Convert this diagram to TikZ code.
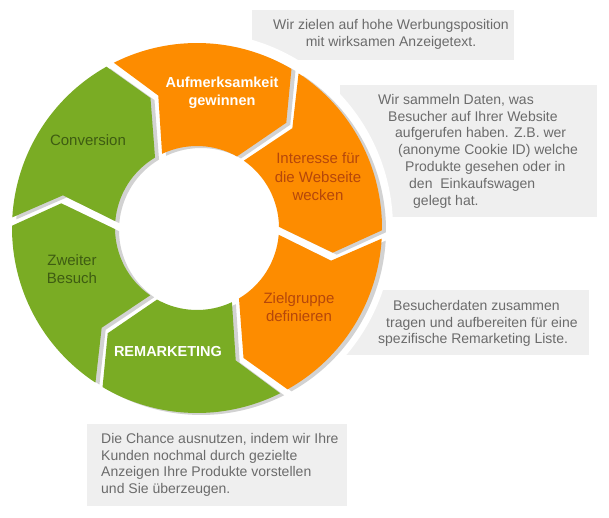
\documentclass[tikz,border=0pt]{standalone}
\usepackage{fontspec}
\setmainfont{Liberation Sans}
\usepackage{tikz}
\usetikzlibrary{positioning}
\usepackage{xcolor}
\definecolor{ringorange}{HTML}{FD8C00}
\definecolor{ringgreen}{HTML}{7AAC24}
\definecolor{ringshadow}{HTML}{D2D2D2}
\definecolor{textorange}{HTML}{B5470B}
\definecolor{textgreen}{HTML}{3E5C12}
\definecolor{notebg}{HTML}{EFEFEF}
\definecolor{notegray}{HTML}{6B6B6B}
\newcommand{\ringpart}[2]{
  \fill[#2] ({#1-1.3}:185) -- ({#1-11.7}:138) -- ({#1-2.8}:82)
    arc[start angle={#1-2.8}, end angle={#1-57.2}, radius=82]
    -- ({#1-68.3}:138) -- ({#1-58.7}:185)
    arc[start angle={#1-58.7}, end angle={#1-1.3}, radius=185] -- cycle;
}

\begin{document}
\begin{tikzpicture}[x=1pt,y=1pt,
  ringlabel/.style={align=center,font=\fontsize{15}{18.5}\selectfont},
  ringbold/.style={ringlabel,text=white,font=\fontsize{14.5}{18.5}\selectfont\bfseries},
  notetext/.style={text=notegray,inner sep=0pt,font=\fontsize{14}{16.8}\selectfont}]
  \useasboundingbox (0,0) rectangle (609,517);
  \fill[notebg] (252,457) rectangle (514,507);
  \fill[notebg] (340,300) rectangle (597,432);
  \fill[notebg] (340,162) rectangle (589,227);
  \fill[notebg] (87,11) rectangle (347,93);
  \fill[white] (197,289) circle[radius=196];
  \begin{scope}[shift={(197,289)}]
    \foreach \a in {118,58,-2,-62,-122,178}
      {\ringpart{\a}{ringshadow,xshift=4pt,yshift=-2pt}}
    \foreach \a/\c in {118/ringorange,58/ringorange,-2/ringorange,-62/ringgreen,-122/ringgreen,178/ringgreen}
      {\ringpart{\a}{\c}}
  \end{scope}

  \node[ringbold] (gain) at (222,424) {Aufmerksamkeit\\gewinnen};
  \node[ringlabel,text=textorange] (interest) at (318,340) {Interesse für\\die Webseite\\wecken};
  \node[ringlabel,text=textorange] (target) at (299,210) {Zielgruppe\\definieren};
  \node[ringbold] (remarketing) at (168,165) {REMARKETING};
  \node[ringlabel,text=textgreen] (revisit) at (72,248) {Zweiter\\Besuch};
  \node[ringlabel,text=textgreen] (conversion) at (88,377) {Conversion};

  \node[notetext,align=center] (aimnote) at (391,483)
    {Wir zielen auf hohe Werbungsposition\\mit wirksamen Anzeigetext.};
  \node[notetext,align=left,anchor=north west] (datanote) at (378,423)
    {Wir sammeln Daten, was\\
     \hspace*{10pt}Besucher auf Ihrer Website\\
     \hspace*{17pt}aufgerufen haben. Z.B. wer\\
     \hspace*{20pt}(anonyme Cookie ID) welche\\
     \hspace*{27pt}Produkte gesehen oder in\\
     \hspace*{31pt}den \ Einkaufswagen\\
     \hspace*{35pt}gelegt hat.};
  \node[notetext,align=left,anchor=north west] (listnote) at (378,217)
    {\hspace*{15pt}Besucherdaten zusammen\\
     \hspace*{8pt}tragen und aufbereiten für eine\\
     spezifische Remarketing Liste.};
  \node[notetext,align=left,anchor=north west] (chancenote) at (101,84)
    {Die Chance ausnutzen, indem wir Ihre\\
     Kunden nochmal durch gezielte\\
     Anzeigen Ihre Produkte vorstellen\\
     und Sie überzeugen.};
\end{tikzpicture}
\end{document}
